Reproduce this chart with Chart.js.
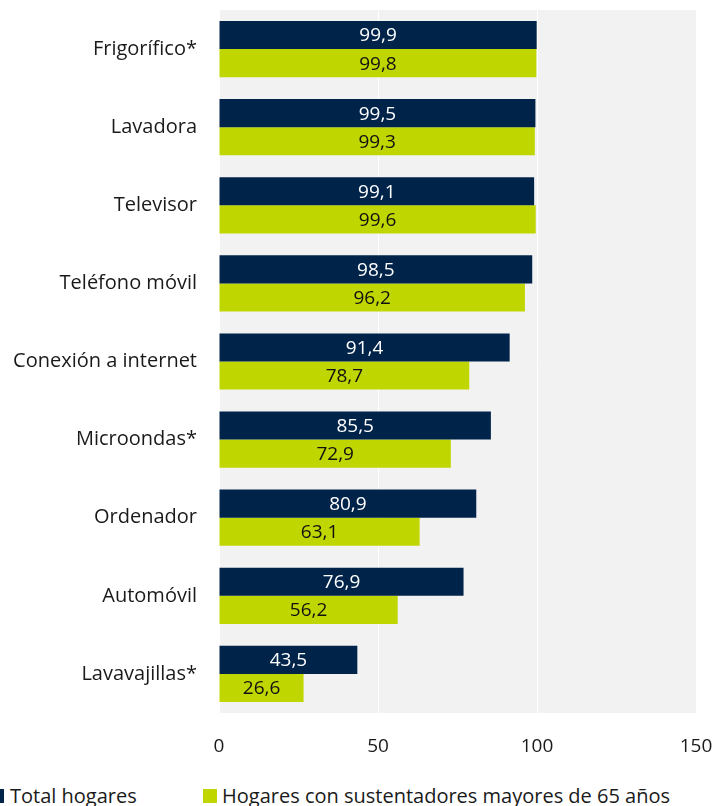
<!DOCTYPE html>
<html>
<head>
<meta charset="utf-8">
<script src="https://cdn.jsdelivr.net/npm/chart.js@4"></script>
<style>
  body { margin: 0; background: #fff; font-family: "Open Sans", sans-serif; }
  #wrap { position: relative; width: 717px; height: 806px; }
  #chart { position: absolute; left: 0; top: 0; }
  .leg { position: absolute; top: 782px; font-size: 20px; color: #1a1a1a; white-space: nowrap; }
  .mk { position: absolute; }
</style>
</head>
<body>
<div id="wrap">
  <canvas id="chart" width="717" height="760"></canvas>
  <div class="mk" style="left:0;top:789px;width:4px;height:14px;background:#00234a"></div>
  <div class="leg" style="left:10px">Total hogares</div>
  <div class="mk" style="left:203px;top:789px;width:14px;height:14px;background:#bfd600"></div>
  <div class="leg" style="left:222px">Hogares con sustentadores mayores de 65 años</div>
</div>
<script>
// datos
const categorias = ["Frigorífico*", "Lavadora", "Televisor", "Teléfono móvil", "Conexión a internet",
  "Microondas*", "Ordenador", "Automóvil", "Lavavajillas*"];
const totalHogares = [99.9, 99.5, 99.1, 98.5, 91.4, 85.5, 80.9, 76.9, 43.5];
const hogares65 = [99.8, 99.3, 99.6, 96.2, 78.7, 72.9, 63.1, 56.2, 26.6];
const ticksX = [0, 50, 100, 150];

const NAVY = "#00234a";
const VERDE = "#bfd600";
const FONT = "'Open Sans', sans-serif";

// fondo gris del area
const fondo = {
  id: "fondo",
  beforeDraw(chart) {
    const a = chart.chartArea;
    chart.ctx.save();
    chart.ctx.fillStyle = "#f2f2f2";
    chart.ctx.fillRect(a.left, a.top, a.right - a.left, a.bottom - a.top);
    chart.ctx.restore();
  }
};

// etiquetas de valor centradas en la barra
const etiquetas = {
  id: "etiquetas",
  afterDatasetsDraw(chart) {
    const ctx = chart.ctx;
    ctx.save();
    ctx.font = "19px " + FONT;
    ctx.textAlign = "center";
    ctx.textBaseline = "middle";
    chart.data.datasets.forEach((ds, i) => {
      chart.getDatasetMeta(i).data.forEach((bar, j) => {
        const x = (bar.x + bar.base) / 2;
        ctx.fillStyle = i === 0 ? "#ffffff" : "#111111";
        ctx.fillText(ds.data[j].toFixed(1).replace(".", ","), x, bar.y + 1);
      });
    });
    ctx.restore();
  }
};

new Chart(document.getElementById("chart"), {
  type: "bar",
  data: {
    labels: categorias,
    datasets: [
      { label: "Total hogares", data: totalHogares, backgroundColor: NAVY,
        categoryPercentage: 0.72, barPercentage: 1 },
      { label: "Hogares con sustentadores mayores de 65 años", data: hogares65, backgroundColor: VERDE,
        categoryPercentage: 0.72, barPercentage: 1 }
    ]
  },
  options: {
    indexAxis: "y",
    responsive: false,
    animation: false,
    layout: { padding: { top: 10, right: 21, left: 0, bottom: 0 } },
    plugins: { legend: { display: false }, tooltip: { enabled: false } },
    scales: {
      x: {
        min: 0, max: 150,
        afterBuildTicks: (s) => { s.ticks = ticksX.map(v => ({ value: v })); },
        afterFit: (s) => { s.height = 47; s.paddingLeft = 0; s.paddingRight = 0; },
        grid: { color: "#ffffff", lineWidth: 1, drawTicks: false },
        border: { display: false },
        ticks: { padding: 22, color: "#1a1a1a", font: { size: 19, family: FONT } }
      },
      y: {
        afterFit: (s) => { s.width = 219; s.paddingTop = 0; s.paddingBottom = 0; },
        grid: { display: false, drawTicks: false },
        border: { display: false },
        ticks: { padding: 22, color: "#1a1a1a", font: { size: 20, family: FONT } }
      }
    }
  },
  plugins: [fondo, etiquetas]
});
</script>
</body>
</html>
